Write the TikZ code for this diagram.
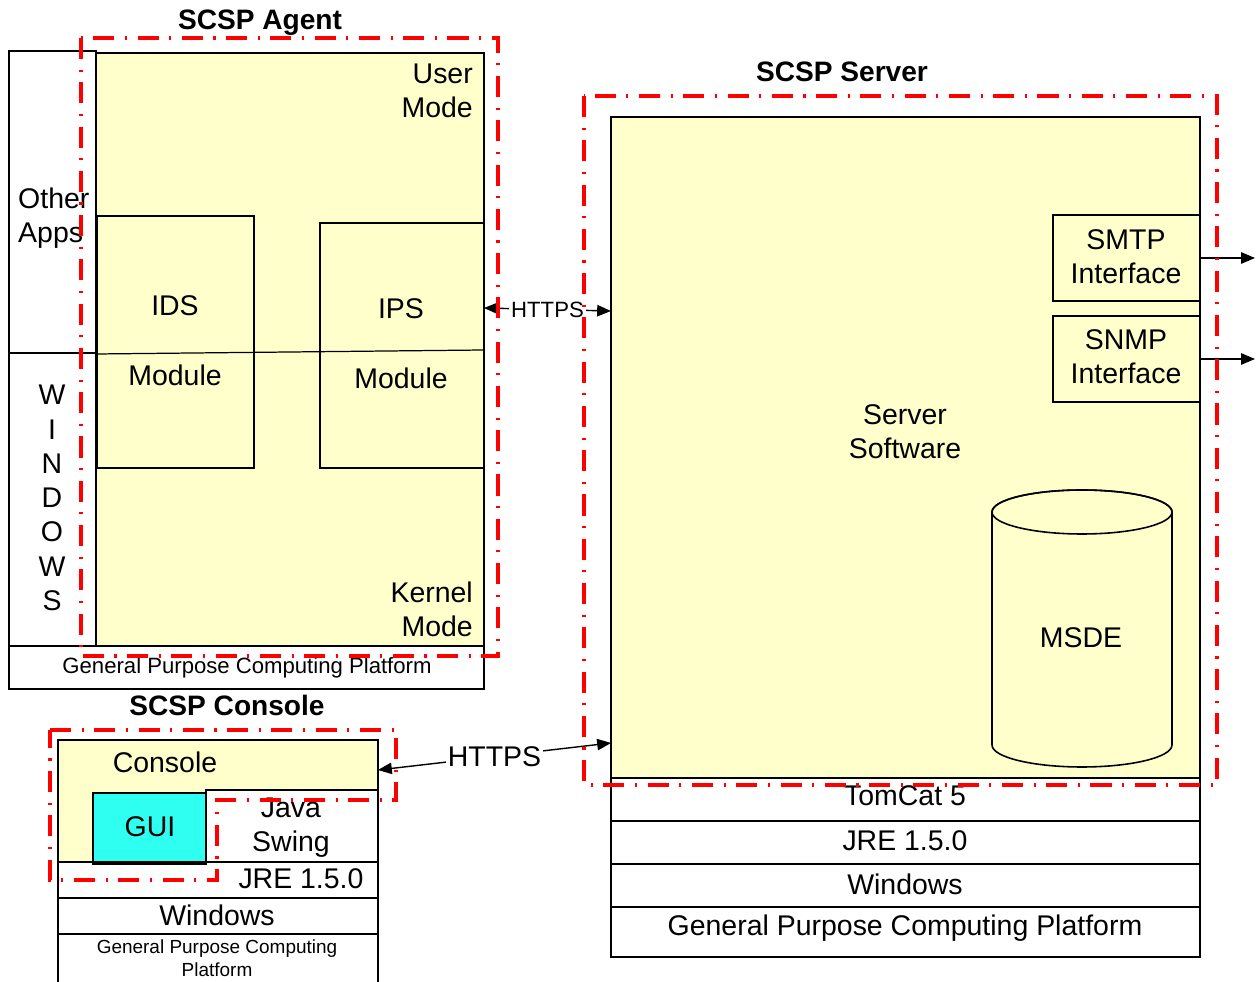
\documentclass[tikz,border=0pt]{standalone}
\usepackage{fontspec}
\setmainfont{Liberation Sans}
\usepackage{tikz}
\usetikzlibrary{arrows, fit}

\definecolor{boxyellow}{RGB}{255,255,204}
\definecolor{guicyan}{RGB}{46,255,240}

\begin{document}
\begin{tikzpicture}[x=0.02cm,y=-0.02cm,>=triangle 45,
  box/.style={draw, line width=0.9pt, inner sep=0pt},
  yel/.style={box, fill=boxyellow},
  frame/.style={red, line width=2pt, dash pattern=on 12pt off 6pt on 1.2pt off 6pt},
  lbl/.style={font=\fontsize{16.2}{19.3}\selectfont, align=center},
  mid/.style={font=\fontsize{12.6}{15}\selectfont, align=center},
  sml/.style={font=\fontsize{10.8}{13}\selectfont, align=center},
  ttl/.style={font=\bfseries\fontsize{16}{19}\selectfont}]
\useasboundingbox (0,0) rectangle (1259,982);

% agent
\node[box, fit={(9,51) (96,353)}] (apps) {};
\node[box, fit={(9,353) (96,646)}] (winbar) {};
\node[yel, fit={(96,53) (484,646)}] (kern) {};
\node[yel, fit={(97,216) (254,468)}] (ids) {};
\node[yel, fit={(320,223) (484,468)}] (ips) {};
\node[box, fit={(9,646) (484,689)}] (gpa) {};
\draw[line width=0.7pt] (96,354) -- (484,350);
\draw[line width=1.4pt] (9,353) -- (96,353);

\node[ttl] (tagent) at (260,23) {SCSP Agent};
\node[lbl, align=right, anchor=east] (umode) at (479,91) {User\\Mode};
\node[lbl, align=right, anchor=east] (kmode) at (479,609) {Kernel\\Mode};
\node[lbl, align=left, anchor=west] (otxt) at (12,218) {Other\\Apps};
\foreach \c [count=\i from 0] in {W,I,N,D,O,W,S}
  \node[lbl] (w\i) at (52,395+34.3*\i) {\c};
\node[lbl] (idstxt) at (175,306) {IDS};
\node[lbl] (idsmod) at (175,375) {Module};
\node[lbl] (ipstxt) at (401,309) {IPS};
\node[lbl] (ipsmod) at (401,378) {Module};
\node[mid] (gpatxt) at (247,668) {General Purpose Computing Platform};

% server
\node[yel, fit={(611,117) (1200,778)}] (srv) {};
\node[yel, fit={(1053,215) (1200,301)}] (smtp) {};
\node[yel, fit={(1053,316) (1200,402)}] (snmp) {};
\node[lbl] (smtptxt) at (1126,257) {SMTP\\Interface};
\node[lbl] (snmptxt) at (1126,357) {SNMP\\Interface};
\node[lbl] (swtxt) at (905,432) {Server\\Software};

\filldraw[line width=0.9pt, fill=boxyellow] (992,512) -- (992,745)
  arc[start angle=180, end angle=360, x radius=1.8cm, y radius=0.44cm]
  -- (1172,512)
  arc[start angle=0, end angle=180, x radius=1.8cm, y radius=0.44cm] -- cycle;
\draw[line width=0.9pt] (1082,512) ellipse [x radius=1.8cm, y radius=0.44cm];
\node[lbl] (msde) at (1081,638) {MSDE};

\node[box, fit={(611,778) (1200,821)}] (tomcat) {};
\node[box, fit={(611,821) (1200,864)}] (jre) {};
\node[box, fit={(611,864) (1200,907)}] (win) {};
\node[box, fit={(611,907) (1200,957)}] (gps) {};
\node[lbl] (tomtxt) at (905,796) {TomCat 5};
\node[lbl] (jretxt) at (905,841) {JRE 1.5.0};
\node[lbl] (wintxt) at (905,884) {Windows};
\node[lbl] (gpstxt) at (905,928) {General Purpose Computing Platform};
\node[ttl] (tserver) at (842,72) {SCSP Server};

\coordinate (smtpout) at (1255,258);
\coordinate (snmpout) at (1255,359);
\draw[->, line width=0.8pt] (smtp.east) -- (smtpout);
\draw[->, line width=0.8pt] (snmp.east) -- (snmpout);

% console
\node[yel, fit={(58,740) (378,862)}] (con) {};
\node[box, fill=white, fit={(206,790) (378,862)}] (swing) {};
\node[box, fill=guicyan, fit={(93,793) (206,864)}] (gui) {};
\node[lbl] (guitxt) at (150,827) {GUI};
\node[lbl] (swingtxt) at (291,828) {Java\\Swing};
\node[lbl] (contxt) at (165,762) {Console};
\node[box, fit={(58,862) (378,898)}] (cjre) {};
\node[lbl] (cjretxt) at (301,879) {JRE 1.5.0};
\node[box, fit={(58,898) (378,934)}] (cwin) {};
\node[lbl] (cwintxt) at (217,915) {Windows};
\node[box, fit={(58,934) (378,995)}] (cgp) {};
\node[sml] (cgptxt) at (217,958) {General Purpose Computing\\Platform};
\node[ttl] (tconsole) at (227,705) {SCSP Console};

% https links
\coordinate (agentport) at (484,308);
\coordinate (srvport) at (611,311);
\draw[<->, line width=0.8pt] (agentport) -- node[mid, fill=white, inner sep=1pt] (h1) {HTTPS} (srvport);
\coordinate (conport) at (378,770);
\coordinate (srvport2) at (611,743);
\draw[<->, line width=0.8pt] (conport) -- node[lbl, fill=white, inner sep=1pt] (h2) {HTTPS} (srvport2);

% red frames
\draw[frame] (81,38) rectangle (498,656);
\draw[frame] (584,96) rectangle (1217,785);
\draw[frame] (50,730) -- (396,730) -- (396,800) -- (217,800) -- (217,880) -- (50,880) -- cycle;

\end{tikzpicture}
\end{document}
